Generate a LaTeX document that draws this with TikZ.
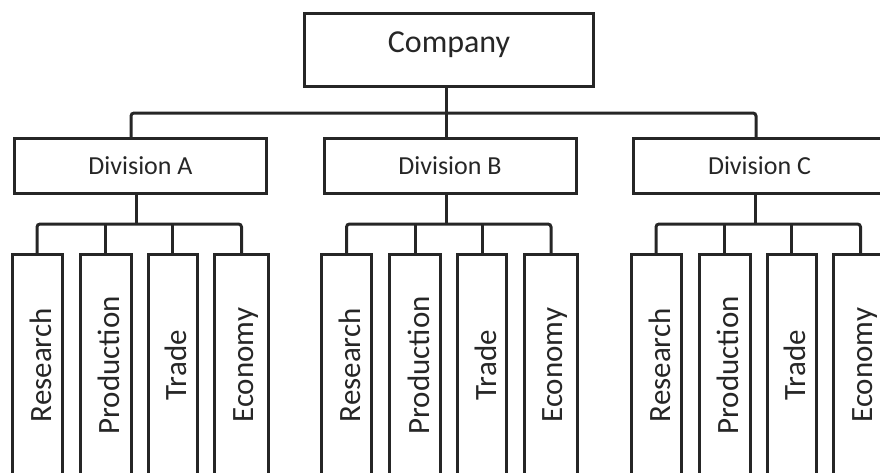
\documentclass[tikz,border=0pt]{standalone}
\usepackage{fontspec}
\setmainfont{Carlito}
\definecolor{ink}{HTML}{262626}
\begin{document}
\begin{tikzpicture}[x=1pt,y=-1pt,
  box/.style={rectangle, draw=ink, line width=3pt, text=ink, inner sep=0pt},
  topbox/.style={box, minimum width=289pt, minimum height=73pt,
    font=\fontsize{32}{38}\selectfont, text height=20pt, text depth=14.4pt},
  divbox/.style={box, minimum width=252pt, minimum height=55pt,
    font=\fontsize{26}{31}\selectfont},
  unitbox/.style={box, rotate=90, minimum width=221.5pt,
    font=\fontsize{31}{37}\selectfont, text depth=0pt},
  conn/.style={draw=ink, line width=3pt},
  bar/.style={conn, rounded corners=3pt}]
\useasboundingbox (0,0) rectangle (880,472);
\clip (0,0) rectangle (880,472);

% top level
\node[topbox] (company) at (449,50) {Company};
\coordinate (hub) at (446,113);

% divisions with their four departments (rotated boxes: east is the top side)
\foreach \d/\cx in {A/140.5, B/450, C/759.5} {
  \node[divbox] (div\d) at (\cx,166) {Division \d};
  \coordinate (bar\d) at (\cx-4,224);
  \foreach \i/\dx/\w/\th/\t in {1/-103.5/50/28/Research, 2/-35/51/28/Production,
                                3/32/49/28/Trade, 4/101/53.5/23/Economy} {
    \node[unitbox, minimum height=\w pt, text height=\th pt]
      (c\d\i) at (\cx+\dx,365.25) {\t};
  }
  \draw[conn] ([xshift=-4pt]div\d.south) -- (bar\d);
  \draw[bar] (c\d1.east) |- (bar\d) -| (c\d4.east);
  \draw[conn] (c\d2.east) -- (c\d2.east |- bar\d);
  \draw[conn] (c\d3.east) -- (c\d3.east |- bar\d);
}

% company to divisions
\draw[conn] ([xshift=-3pt]company.south) -- ([xshift=-3pt]company.south |- divB.north);
\draw[bar] ([xshift=-9.5pt]divA.north) |- (hub) -| ([xshift=-3.5pt]divC.north);
\end{tikzpicture}
\end{document}
